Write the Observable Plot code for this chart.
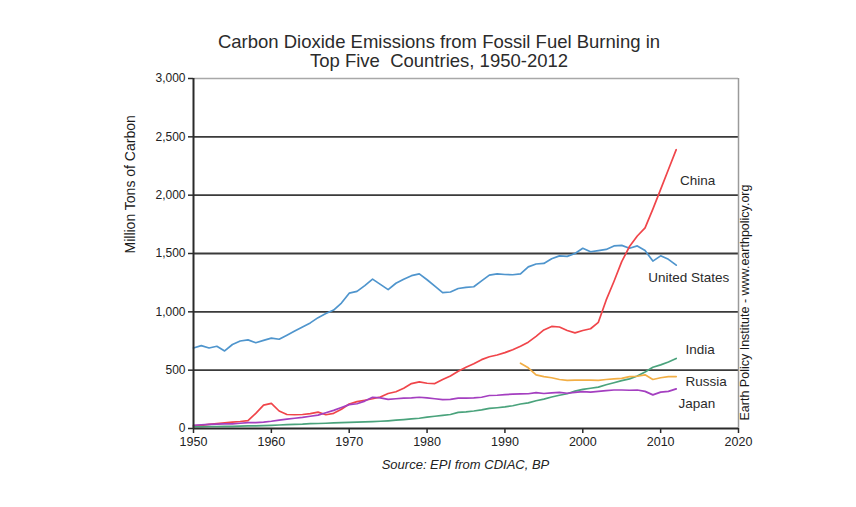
<!DOCTYPE html>
<html>
<head>
<meta charset="utf-8">
<script src="https://cdn.jsdelivr.net/npm/d3@7"></script>
<script src="https://cdn.jsdelivr.net/npm/@observablehq/plot@0.6"></script>
<style>
  html, body { margin: 0; padding: 0; background: #fff; }
  body { width: 856px; height: 507px; overflow: hidden; font-family: "Liberation Sans", Arial, sans-serif; }
  #title { padding-top: 32px; padding-left: 22px; font-size: 18.5px; line-height: 19px; color: #2b2b2b; text-align: center; height: 39px; }
  #caption { margin-left: 193px; width: 545px; text-align: center; font-style: italic; font-size: 13px; color: #222; margin-top: 7px; }
</style>
</head>
<body>
<div id="title">Carbon Dioxide Emissions from Fossil Fuel Burning in<br>Top Five&nbsp; Countries, 1950-2012</div>
<div id="chart"></div>
<div id="caption">Source: EPI from CDIAC, BP</div>
<script>
const years = d3.range(1950, 2013);
const russiaYears = d3.range(1992, 2013);

const unitedStates = [690, 710, 690, 705, 665, 720, 750, 760, 735, 755,
  775, 765, 800, 835, 870, 905, 950, 985, 1015, 1075,
  1160, 1175, 1225, 1280, 1235, 1190, 1245, 1280, 1310, 1325,
  1275, 1220, 1165, 1170, 1200, 1210, 1215, 1265, 1315, 1325,
  1320, 1318, 1325, 1385, 1410, 1415, 1455, 1480, 1475, 1500,
  1545, 1515, 1525, 1535, 1565, 1570, 1545, 1565, 1525, 1435,
  1480, 1450, 1400];

const china = [22, 27, 35, 42, 48, 55, 60, 68, 130, 200,
  215, 150, 120, 118, 120, 128, 140, 118, 130, 165,
  210, 230, 242, 255, 270, 300, 315, 345, 385, 400,
  388, 385, 420, 450, 490, 525, 555, 590, 615, 630,
  650, 675, 705, 740, 790, 845, 875, 870, 840, 820,
  840, 855, 910, 1100, 1260, 1430, 1560, 1650, 1720, 1880,
  2050, 2220, 2390];

const india = [15, 16, 17, 17, 18, 19, 20, 22, 23, 25,
  27, 30, 33, 36, 37, 41, 43, 45, 48, 50,
  52, 54, 57, 59, 62, 66, 71, 76, 82, 88,
  97, 105, 112, 120, 138, 143, 150, 160, 172, 178,
  185, 195, 210, 220, 238, 252, 270, 285, 298, 320,
  335, 345, 355, 375, 392, 410, 425, 450, 485, 525,
  545, 570, 600];

const japan = [28, 32, 35, 38, 40, 40, 45, 50, 50, 55,
  62, 72, 80, 88, 95, 105, 115, 135, 155, 180,
  205, 212, 235, 268, 262, 250, 255, 260, 262, 268,
  262, 255, 248, 250, 260, 260, 262, 268, 283, 285,
  290, 295, 296, 298, 308, 300, 305, 310, 302, 310,
  316, 312, 318, 325, 330, 330, 328, 330, 318, 288,
  312, 318, 340];

const russia = [560, 520, 460, 445, 435, 420, 412, 415, 415, 415,
  412, 420, 425, 430, 445, 448, 460, 420, 435, 445, 445];

const countries = ["China", "United States", "India", "Russia", "Japan"];
const colors = ["#f0454a", "#4f95cd", "#4aa37c", "#f2ae45", "#a43fc0"];

const labelNames = ["China", "United States", "India", "Russia", "Japan"];
const labelYears = [2012.5, 2008.4, 2013.2, 2013.2, 2012.3];
const labelValues = [2120, 1290, 677, 400, 214];

const yTicks = [0, 500, 1000, 1500, 2000, 2500, 3000];
const gridValues = [500, 1000, 1500, 2000, 2500];
const xTicks = [1950, 1960, 1970, 1980, 1990, 2000, 2010, 2020];

const rows = [];
years.forEach((y, i) => {
  rows.push({country: "United States", year: y, value: unitedStates[i]});
  rows.push({country: "China", year: y, value: china[i]});
  rows.push({country: "India", year: y, value: india[i]});
  rows.push({country: "Japan", year: y, value: japan[i]});
});
russiaYears.forEach((y, i) => rows.push({country: "Russia", year: y, value: russia[i]}));

const chart = Plot.plot({
  width: 856,
  height: 379,
  marginLeft: 193,
  marginRight: 118,
  marginTop: 7,
  marginBottom: 22,
  style: {fontFamily: "'Liberation Sans', Arial, sans-serif", fontSize: "12.5px", color: "#222", background: "#fff"},
  x: {domain: [1950, 2020]},
  y: {domain: [0, 3000]},
  color: {domain: countries, range: colors},
  marks: [
    Plot.ruleY(gridValues, {stroke: "#3a3a3a", strokeWidth: 1.8}),
    Plot.ruleY([3000], {stroke: "#a8a8a8", strokeWidth: 1.5}),
    Plot.ruleX([2020], {stroke: "#9a9a9a", strokeWidth: 1.5}),
    Plot.line(rows, {x: "year", y: "value", z: "country", stroke: "country", strokeWidth: 1.7}),
    Plot.ruleX([1950], {stroke: "#2a2a2a", strokeWidth: 2}),
    Plot.ruleY([0], {stroke: "#2a2a2a", strokeWidth: 2}),
    Plot.axisY({ticks: yTicks, tickFormat: d3.format(","), tickSize: 5, tickPadding: 3, label: null, fontSize: 12, stroke: "#2a2a2a", strokeWidth: 1.5}),
    Plot.axisX({ticks: xTicks, tickFormat: d => String(d), tickSize: 5, tickPadding: 4, label: null, fontSize: 12.5, stroke: "#2a2a2a", strokeWidth: 1.5}),
    Plot.text(labelNames, {x: (d, i) => labelYears[i], y: (d, i) => labelValues[i], text: d => d, textAnchor: "start", fontSize: 13.5, fill: "#2b2b2b"}),
    Plot.text(["Million Tons of Carbon"], {frameAnchor: "left", rotate: -90, dx: -63, fontSize: 14, fill: "#1a1a1a"}),
    Plot.text(["Earth Policy Institute - www.earthpolicy.org"], {frameAnchor: "bottom-right", rotate: -90, textAnchor: "start", dx: 10, dy: -8, fontSize: 12.5, fill: "#1a1a1a"})
  ]
});
document.getElementById("chart").appendChild(chart);
</script>
</body>
</html>
